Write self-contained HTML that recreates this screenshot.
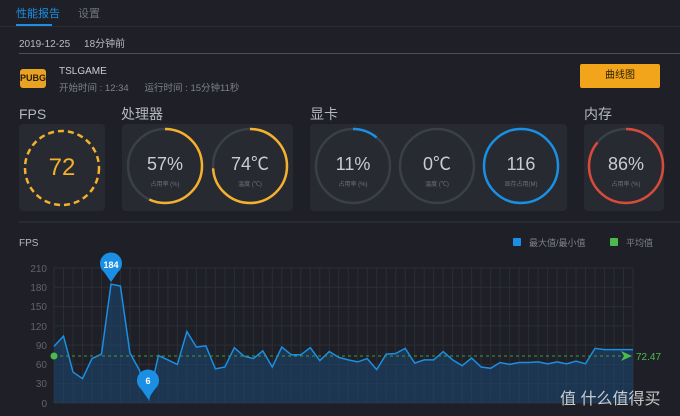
<!DOCTYPE html><html><head><meta charset="utf-8"><style>
body{margin:0;width:680px;height:416px;background:#1f2027;overflow:hidden;font-family:"Liberation Sans","Noto Sans CJK SC",sans-serif;color:#c9ccd2;position:relative}
.a{position:absolute;white-space:nowrap}
.t{position:absolute;white-space:nowrap;font-size:14px;line-height:16px;height:16px;color:#b5b8be;top:106px}
.p{position:absolute;background:#272a31;border-radius:4px}
</style></head><body>
<div class="a" style="left:16px;top:5px;font-size:11px;color:#1a8fe3">性能报告</div>
<div class="a" style="left:78px;top:5px;font-size:11px;color:#6f737b">设置</div>
<div class="a" style="left:0;top:26px;width:680px;height:1px;background:#2a2c33"></div>
<div class="a" style="left:16px;top:24px;width:36px;height:2px;background:#1a8fe3"></div>
<div class="a" style="left:19px;top:35px;font-size:10px;color:#b8bbc1">2019-12-25 &nbsp;&nbsp;&nbsp; 18分钟前</div>
<div class="a" style="left:19px;top:53px;width:661px;height:1px;background:#4a4e57"></div>
<div class="a" style="left:20px;top:69px;width:26px;height:19px;background:#e8a323;border-radius:3px;font-size:9px;font-weight:bold;color:#2a1c05;text-align:center;line-height:19px">PUBG</div>
<div class="a" style="left:59px;top:66px;font-size:10px;color:#c9ccd2">TSLGAME</div>
<div class="a" style="left:59px;top:80px;font-size:9.5px;color:#7d8189">开始时间 : 12:34 &nbsp;&nbsp;&nbsp;&nbsp; 运行时间 : 15分钟11秒</div>
<div class="a" style="left:580px;top:64px;width:80px;height:24px;background:#f2a51a;border-radius:2px;font-size:10px;color:#2a2000;text-align:center;line-height:24px">曲线图</div>
<div class="t" style="left:19px">FPS</div>
<div class="t" style="left:121px">处理器</div>
<div class="t" style="left:310px">显卡</div>
<div class="t" style="left:584px">内存</div>
<div class="p" style="left:19px;top:124px;width:86px;height:87px"></div>
<div class="p" style="left:122px;top:124px;width:171px;height:87px"></div>
<div class="p" style="left:310px;top:124px;width:257px;height:87px"></div>
<div class="p" style="left:584px;top:124px;width:80px;height:87px"></div>
<svg class="a" style="left:0;top:0" width="680" height="416">
<g fill="none" stroke-width="2.5">
<circle cx="62" cy="168" r="37" stroke="#f5b02e" stroke-dasharray="6 4"/>
<g stroke="#3a3f48"><circle cx="165" cy="166" r="37"/><circle cx="250" cy="166" r="37"/><circle cx="353" cy="166" r="37"/><circle cx="437" cy="166" r="37"/><circle cx="626" cy="166" r="37"/></g>
<circle cx="165" cy="166" r="37" stroke="#f5b02e" pathLength="100" stroke-dasharray="57 100" transform="rotate(-90 165 166)"/>
<circle cx="250" cy="166" r="37" stroke="#f5b02e" pathLength="100" stroke-dasharray="74 100" transform="rotate(-90 250 166)"/>
<circle cx="353" cy="166" r="37" stroke="#1a8fe3" pathLength="100" stroke-dasharray="11 100" transform="rotate(-90 353 166)"/>
<circle cx="521" cy="166" r="37" stroke="#1a8fe3"/>
<circle cx="626" cy="166" r="37" stroke="#d84a3a" pathLength="100" stroke-dasharray="86 100" transform="rotate(-90 626 166)"/>
</g>
<g font-family="Liberation Sans,Noto Sans CJK SC,sans-serif" text-anchor="middle">
<text x="62" y="175" font-size="24" fill="#f5b02e">72</text>
<g font-size="18" fill="#c9ccd2"><text x="165" y="170">57%</text><text x="250" y="170">74℃</text><text x="353" y="170">11%</text><text x="437" y="170">0℃</text><text x="521" y="170">116</text><text x="626" y="170">86%</text></g>
<g font-size="6" fill="#6f737b"><text x="165" y="186">占用率 (%)</text><text x="250" y="186">温度 (℃)</text><text x="353" y="186">占用率 (%)</text><text x="437" y="186">温度 (℃)</text><text x="521" y="186">显存占用(M)</text><text x="626" y="186">占用率 (%)</text></g>
</g>
<line x1="19" y1="222" x2="680" y2="222" stroke="#33363e"/>
<text x="19" y="246" font-size="10" fill="#b5b8be" font-family="Liberation Sans,sans-serif">FPS</text>
<rect x="513" y="238" width="8" height="8" fill="#1a8fe3" rx="1"/>
<text x="529" y="246" font-size="9" fill="#7d8189" font-family="Liberation Sans,Noto Sans CJK SC,sans-serif">最大值/最小值</text>
<rect x="610" y="238" width="8" height="8" fill="#4cbb4c" rx="1"/>
<text x="626" y="246" font-size="9" fill="#7d8189" font-family="Liberation Sans,Noto Sans CJK SC,sans-serif">平均值</text>
<g id="grid" stroke="#2b2e36" stroke-width="1"></g>
<g font-size="10" fill="#5f636b" text-anchor="end" font-family="Liberation Sans,sans-serif">
<text x="47" y="272">210</text><text x="47" y="291">180</text><text x="47" y="310">150</text><text x="47" y="330">120</text><text x="47" y="349">90</text><text x="47" y="368">60</text><text x="47" y="387">30</text><text x="47" y="407">0</text></g>
<path id="area" fill="#1a4a7a" fill-opacity="0.5"/>
<path id="ln" fill="none" stroke="#1a8fe3" stroke-width="1.5"/>
<line x1="54" y1="356" x2="625" y2="356" stroke="#3f9a3f" stroke-dasharray="3 3"/>
<circle cx="54" cy="356" r="3.5" fill="#4cbb4c"/>
<path d="M621 351 L632 356 L621 361 L624 356Z" fill="#4cbb4c"/>
<text x="636" y="360" font-size="10" fill="#4cbb4c" font-family="Liberation Sans,sans-serif">72.47</text>
<path d="M111 282 L104 272 A11 11 0 1 1 118 272Z" fill="#1a8fe3"/>
<text x="111" y="268" font-size="9" font-weight="bold" fill="#fff" text-anchor="middle" font-family="Liberation Sans,sans-serif">184</text>
<path d="M148 399 L141 389 A11 11 0 1 1 155 389Z" fill="#1a8fe3"/>
<text x="148" y="384" font-size="9" font-weight="bold" fill="#fff" text-anchor="middle" font-family="Liberation Sans,sans-serif">6</text>
<text x="560" y="404" font-size="16" fill="#e6e6e6" font-family="Liberation Sans,Noto Sans CJK SC,sans-serif" opacity="0.85">值 什么值得买</text>
</svg>
<script>
var v=[88,104,48,38,69,76,185,182,78,51,7,74,67,60,111,87,89,53,56,86,73,69,81,56,87,75,75,86,66,80,71,67,64,69,52,76,77,85,62,67,67,80,67,58,70,56,54,63,60,63,63,64,61,64,61,65,61,85,83,83,83,83];
var X=function(i){return 54+i*579/61},Y=function(a){return 403-a*135/210};
var d="";v.forEach(function(a,i){d+=(i?"L":"M")+X(i).toFixed(1)+" "+Y(a).toFixed(1)});
document.getElementById("ln").setAttribute("d",d);
document.getElementById("area").setAttribute("d",d+"L633 403L54 403Z");
var s="";for(var i=0;i<62;i++)s+='<line x1="'+X(i)+'" y1="268" x2="'+X(i)+'" y2="403"/>';
for(var j=0;j<=7;j++)s+='<line x1="54" y1="'+Y(j*30)+'" x2="633" y2="'+Y(j*30)+'"/>';
document.getElementById("grid").innerHTML=s;
</script>
</body></html>
